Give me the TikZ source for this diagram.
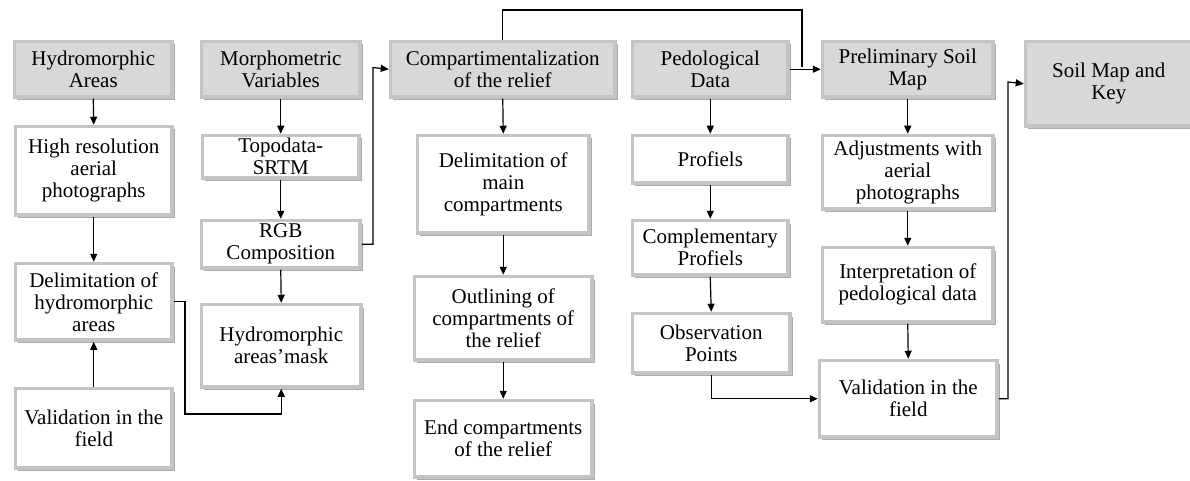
\documentclass[tikz,border=0pt]{standalone}
\usepackage{fontspec}
\setmainfont{Liberation Serif}
\usetikzlibrary{arrows.meta,shadows}
\definecolor{bord}{RGB}{196,196,196}
\definecolor{hfill}{RGB}{216,216,216}
\definecolor{shad}{RGB}{150,150,150}
\tikzset{
  base/.style={draw=bord, line width=3.5pt, align=center, inner sep=2pt,
    font=\fontsize{21}{22}\selectfont, anchor=north west,
    drop shadow={shadow xshift=2.5pt, shadow yshift=-3pt, fill=shad, opacity=0.8}},
  hdr/.style={base, fill=hfill},
  plain/.style={base, fill=white},
  arr/.style={draw=black, line width=1.2pt, -{Triangle[length=8pt,width=7pt]}},
  ln/.style={draw=black, line width=1.2pt}
}
\newcommand{\mybox}[7]{%
  \pgfmathsetmacro\mybw{#4-#2-3.5}%
  \pgfmathsetmacro\mybh{#5-#3-3.5}%
  \pgfmathsetmacro\mybx{#2+1.75}%
  \pgfmathsetmacro\myby{#3+1.75}%
  \node[#6, minimum width=\mybw pt, minimum height=\mybh pt] (#1) at (\mybx,\myby) {#7};}
\begin{document}
\begin{tikzpicture}[x=1pt,y=-1pt]
\useasboundingbox (0,0) rectangle (1190,481);
% column 1
\mybox{ha}{11}{38}{172}{97}{hdr}{Hydromorphic\\Areas}
\mybox{hr}{12}{123}{172}{215}{plain}{High resolution\\aerial\\photographs}
\mybox{dh}{12}{260}{172}{340}{plain}{Delimitation of\\hydromorphic\\areas}
\mybox{vl}{12}{385}{172}{468}{plain}{Validation in the\\field}
% column 2
\mybox{mv}{198}{38}{360}{97}{hdr}{Morphometric\\Variables}
\mybox{tp}{199}{132}{359}{178}{plain}{Topodata-\\SRTM}
\mybox{rgb}{198}{217}{360}{268}{plain}{RGB\\Composition}
\mybox{hm}{198}{301}{361}{387}{plain}{Hydromorphic\\areas’mask}
% column 3
\mybox{cp}{387}{38}{615}{97}{hdr}{Compartimentalization\\of the relief}
\mybox{dm}{414}{132}{589}{233}{plain}{Delimitation of\\main\\compartments}
\mybox{oc}{411}{273}{592}{360}{plain}{Outlining of\\compartments of\\the relief}
\mybox{ec}{411}{397}{592}{477}{plain}{End compartments\\of the relief}
% column 4
\mybox{pd}{629}{38}{788}{97}{hdr}{Pedological\\Data}
\mybox{pf}{629}{132}{788}{183}{plain}{Profiels}
\mybox{cpf}{629}{217}{788}{275}{plain}{Complementary\\Profiels}
\mybox{ob}{629}{310}{790}{373}{plain}{Observation\\Points}
% column 5
\mybox{pm}{819}{38}{993}{97}{hdr}{Preliminary Soil\\Map}
\mybox{ad}{819}{132}{993}{209}{plain}{Adjustments with\\aerial\\photographs}
\mybox{ip}{819}{244}{993}{322}{plain}{Interpretation of\\pedological data}
\mybox{vr}{816}{357}{997}{437}{plain}{Validation in the\\field}
% column 6
\mybox{sm}{1022}{38}{1192}{126}{hdr}{Soil Map and\\Key}
% connectors
\draw[arr] (ha.south) -- (hr.north);
\draw[arr] (hr.south) -- (dh.north);
\draw[arr] (vl.north) -- (dh.south);
\draw[arr] (dh.east) -| (185,414) -| (hm.south);
\draw[arr] (mv.south) -- (tp.north);
\draw[arr] (tp.south) -- (rgb.north);
\draw[arr] (rgb.south) -- (hm.north);
\draw[arr] (rgb.east) -| (373,67.5) -- (cp.west);
\draw[arr] (cp.south) -- (dm.north);
\draw[arr] (dm.south) -- (oc.north);
\draw[arr] (oc.south) -- (ec.north);
\draw[ln] (cp.north) |- (802,10) -- (802,67.5);
\draw[arr] (pd.east) -- (pm.west);
\draw[arr] (pd.south) -- (pf.north);
\draw[arr] (pf.south) -- (cpf.north);
\draw[arr] (cpf.south) -- (ob.north);
\draw[arr] (ob.south) |- (vr.west);
\draw[arr] (pm.south) -- (ad.north);
\draw[arr] (ad.south) -- (ip.north);
\draw[arr] (ip.south) -- (vr.north);
\draw[arr] (vr.east) -| (1008,82) -- (sm.west);
\end{tikzpicture}
\end{document}
